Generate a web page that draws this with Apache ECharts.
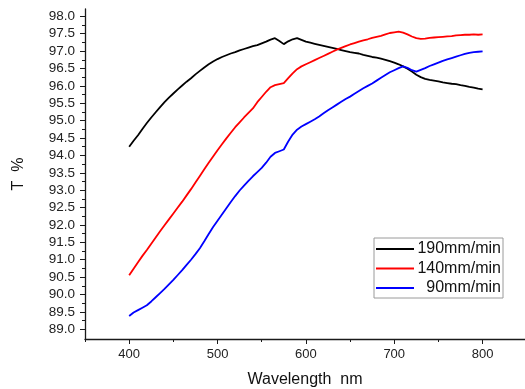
<!DOCTYPE html>
<html>
<head>
<meta charset="utf-8">
<script src="https://cdn.jsdelivr.net/npm/echarts@6/dist/echarts.min.js"></script>
<style>html,body{margin:0;padding:0;background:#fff;}#c{width:525px;height:389px;}</style>
</head>
<body>
<div id="c"></div>
<script>
var wavelengths = [];
for (var w = 400; w <= 800; w += 5) wavelengths.push(w);

var seriesNames = ['190mm/min', '140mm/min', '90mm/min'];

var t190 = [94.25,94.42,94.58,94.76,94.93,95.09,95.24,95.39,95.53,95.66,95.78,95.90,96.01,96.12,96.22,96.33,96.43,96.53,96.62,96.70,
96.77,96.83,96.88,96.93,96.97,97.02,97.06,97.10,97.14,97.17,97.22,97.27,97.33,97.37,97.29,97.20,97.28,97.34,97.37,97.32,
97.27,97.24,97.21,97.18,97.15,97.12,97.09,97.06,97.03,97.00,96.97,96.95,96.93,96.89,96.86,96.83,96.81,96.78,96.75,96.71,
96.67,96.62,96.56,96.49,96.41,96.32,96.25,96.20,96.17,96.15,96.13,96.10,96.08,96.06,96.05,96.02,96.00,95.97,95.95,95.92,95.90];

var t140 = [90.55,90.74,90.93,91.11,91.28,91.46,91.64,91.82,91.99,92.16,92.33,92.50,92.67,92.85,93.03,93.22,93.41,93.60,93.79,93.97,
94.15,94.32,94.49,94.65,94.81,94.95,95.09,95.22,95.35,95.53,95.68,95.83,95.96,96.02,96.05,96.08,96.22,96.36,96.48,96.56,
96.62,96.68,96.74,96.80,96.86,96.92,96.98,97.04,97.09,97.14,97.19,97.23,97.27,97.31,97.34,97.38,97.41,97.44,97.48,97.52,
97.54,97.56,97.53,97.48,97.42,97.37,97.35,97.36,97.38,97.39,97.40,97.41,97.42,97.43,97.45,97.46,97.47,97.47,97.48,97.47,97.48];

var t90 = [89.38,89.48,89.55,89.62,89.69,89.80,89.92,90.04,90.16,90.29,90.42,90.56,90.70,90.85,91.00,91.16,91.33,91.53,91.74,91.94,
92.12,92.30,92.48,92.66,92.83,92.99,93.13,93.27,93.40,93.52,93.64,93.79,93.96,94.07,94.12,94.17,94.40,94.60,94.74,94.83,
94.90,94.97,95.04,95.12,95.21,95.30,95.38,95.46,95.54,95.62,95.69,95.77,95.85,95.93,96.00,96.07,96.15,96.23,96.31,96.39,
96.45,96.51,96.56,96.52,96.45,96.41,96.46,96.51,96.57,96.62,96.67,96.72,96.76,96.80,96.84,96.88,96.92,96.95,96.97,96.98,96.99];

var yTickLabels = [89.0,89.5,90.0,90.5,91.0,91.5,92.0,92.5,93.0,93.5,94.0,94.5,95.0,95.5,96.0,96.5,97.0,97.5,98.0];
var yMinorTicks = [];
for (var i = 0; i < yTickLabels.length - 1; i++) {
  yMinorTicks.push(yTickLabels[i] + 0.25);
}
var xTickLabels = [400, 500, 600, 700, 800];
var xMinorTicks = [350, 450, 550, 650, 750];

function pairs(ys) {
  return wavelengths.map(function (x, i) { return [x, ys[i]]; });
}

var chart = echarts.init(document.getElementById('c'), null, {renderer: 'canvas'});
var fontFam = 'Arial, "Liberation Sans", sans-serif';
var axisColor = '#1a1a1a';
var xMin = 350, xMax = 848, yMin = 88.72, yMax = 98.21;

chart.setOption({
  animation: false,
  backgroundColor: '#ffffff',
  grid: {left: 85, right: 0, top: 9, bottom: 50, containLabel: false, outerBoundsMode: 'none'},
  legend: {
    orient: 'vertical',
    left: 374, top: 238,
    icon: 'rect',
    itemWidth: 38, itemHeight: 2,
    itemGap: 3.5,
    padding: [3, 2, 2, 2],
    borderColor: '#9a9a9a', borderWidth: 1,
    data: seriesNames,
    formatter: function (n) { return '{a|' + n + '}'; },
    textStyle: {
      fontFamily: fontFam, fontSize: 16, color: '#111',
      rich: {a: {width: 82, align: 'right', fontSize: 16, lineHeight: 16, fontFamily: fontFam, color: '#111'}}
    }
  },
  xAxis: [{
    type: 'value', min: xMin, max: xMax,
    name: 'Wavelength  nm', nameLocation: 'middle', nameGap: 33,
    nameTextStyle: {fontFamily: fontFam, fontSize: 16, color: '#111'},
    axisLine: {lineStyle: {color: axisColor, width: 1.3}},
    axisTick: {inside: false, length: 5, lineStyle: {color: axisColor}, customValues: xTickLabels},
    axisLabel: {
      margin: 9, fontFamily: fontFam, fontSize: 13, color: '#222',
      customValues: xTickLabels,
      formatter: function (v) { return String(v); }
    },
    splitLine: {show: false}
  }, {
    type: 'value', min: xMin, max: xMax, position: 'bottom',
    axisLine: {show: false},
    axisTick: {show: true, length: 3, lineStyle: {color: axisColor}, customValues: xMinorTicks},
    axisLabel: {show: false},
    splitLine: {show: false}
  }],
  yAxis: [{
    type: 'value', min: yMin, max: yMax,
    name: 'T  %', nameLocation: 'middle', nameGap: 58, nameRotate: 90,
    nameTextStyle: {fontFamily: fontFam, fontSize: 16, color: '#111'},
    axisLine: {show: true, lineStyle: {color: axisColor, width: 1.3}},
    axisTick: {show: true, length: 5, lineStyle: {color: axisColor}, customValues: yTickLabels},
    axisLabel: {
      margin: 10, fontFamily: fontFam, fontSize: 13.5, color: '#222',
      customValues: yTickLabels,
      formatter: function (v) { return v.toFixed(1); }
    },
    splitLine: {show: false}
  }, {
    type: 'value', min: yMin, max: yMax, position: 'left',
    axisLine: {show: false},
    axisTick: {show: true, length: 3, lineStyle: {color: axisColor}, customValues: yMinorTicks},
    axisLabel: {show: false},
    splitLine: {show: false}
  }],
  series: [
    {name: seriesNames[0], type: 'line', data: pairs(t190), showSymbol: false, symbol: 'none',
     lineStyle: {color: '#000000', width: 1.8}, itemStyle: {color: '#000000'}},
    {name: seriesNames[1], type: 'line', data: pairs(t140), showSymbol: false, symbol: 'none',
     lineStyle: {color: '#ff0000', width: 1.8}, itemStyle: {color: '#ff0000'}},
    {name: seriesNames[2], type: 'line', data: pairs(t90), showSymbol: false, symbol: 'none',
     lineStyle: {color: '#0000ff', width: 1.8}, itemStyle: {color: '#0000ff'}}
  ]
});
</script>
</body>
</html>
